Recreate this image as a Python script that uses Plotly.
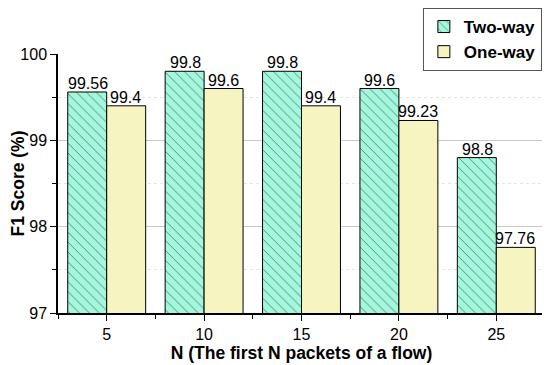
import plotly.graph_objects as go

# packet counts on x axis
n_packets = [5, 10, 15, 20, 25]
two_way = [99.56, 99.8, 99.8, 99.6, 98.8]
one_way = [99.4, 99.6, 99.4, 99.23, 97.76]
series_names = ["Two-way", "One-way"]

FONT = "Liberation Sans, Arial, sans-serif"

fig = go.Figure()
fig.add_trace(go.Bar(
    x=n_packets, y=two_way, name="<b>" + series_names[0] + "</b>",
    marker=dict(color="#a2f7dc", line=dict(color="black", width=1),
                pattern=dict(shape="\\", fgcolor="black", size=7, solidity=0.12)),
))
fig.add_trace(go.Bar(
    x=n_packets, y=one_way, name="<b>" + series_names[1] + "</b>",
    marker=dict(color="#f6f4c0", line=dict(color="black", width=1)),
))

# value labels above each bar (bars are 0.4 of the spacing, ~39 px wide)
for vals, shift in [(two_way, -19), (one_way, 19)]:
    for n, v in zip(n_packets, vals):
        fig.add_annotation(x=n, y=v, text=str(v), showarrow=False,
                           xshift=shift, yanchor="bottom", yshift=-2,
                           font=dict(size=16, color="black"))

# page body has an 8px margin, so the figure is shrunk/shifted to fit the window
fig.update_layout(
    width=542, height=357,
    margin=dict(l=50, r=5, t=46, b=52, autoexpand=False),
    paper_bgcolor="white", plot_bgcolor="white",
    barmode="group", bargap=0.2, bargroupgap=0,
    font=dict(family=FONT, size=16, color="black"),
    legend=dict(xref="container", yref="container", x=0.985, y=1.0,
                xanchor="right", yanchor="top",
                bordercolor="#555", borderwidth=1,
                font=dict(size=17, family=FONT),
                tracegroupgap=0),
)
fig.update_xaxes(
    range=[2.5, 27.5], tickvals=n_packets,
    title=dict(text="<b>N (The first N packets of a flow)</b>", font=dict(size=17.5), standoff=2),
    showline=True, linecolor="black", linewidth=1.5,
    ticks="outside", ticklen=6, tickcolor="black",
    minor=dict(tick0=2.5, dtick=5, ticks="outside", ticklen=4, tickcolor="black", showgrid=False),
    tickfont=dict(size=16), showgrid=False, zeroline=False,
)
fig.update_yaxes(
    title=dict(text="<b>F1 Score (%)</b>", font=dict(size=17.5), standoff=9),
    range=[97, 100], dtick=1,
    showline=True, linecolor="black", linewidth=1.5,
    ticks="outside", ticklen=6, tickcolor="black",
    showgrid=True, gridcolor="#c8c8c8", gridwidth=1,
    minor=dict(dtick=0.5, ticks="outside", ticklen=4, tickcolor="black",
               showgrid=True, gridcolor="#e4e4e4", griddash="dot"),
    tickfont=dict(size=16), zeroline=False,
)

fig.write_html("out.html")
